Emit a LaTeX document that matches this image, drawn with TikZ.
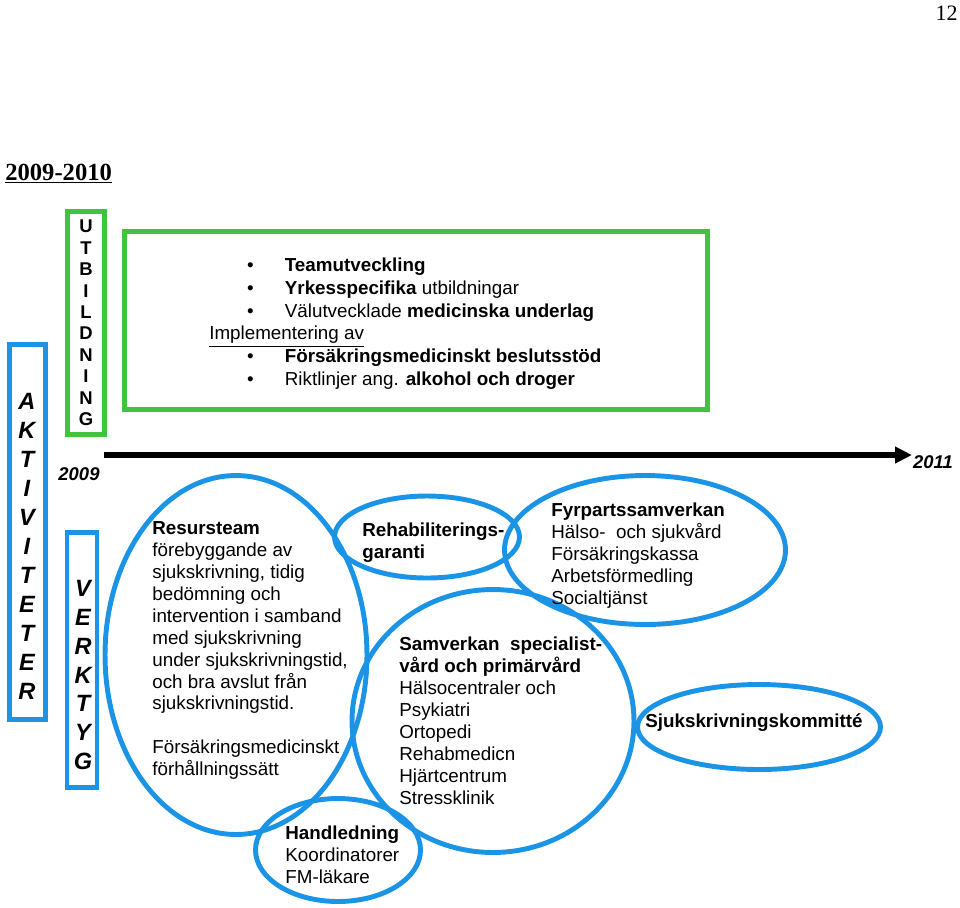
\documentclass[tikz,border=0pt]{standalone}
\usepackage{fontspec}
\setmainfont{Liberation Sans}
\newfontfamily\timesfont{Liberation Serif}
\usetikzlibrary{shapes.geometric,arrows.meta}
\definecolor{lineblue}{RGB}{28,148,230}
\definecolor{linegreen}{RGB}{64,196,64}
\newcommand{\bul}[1]{\makebox[43pt][l]{\hspace{21.5pt}\textbullet}#1}

\begin{document}
\begin{tikzpicture}[x=0.02cm,y=-0.02cm,
  ell/.style={draw=lineblue,line width=2.8pt,ellipse,inner sep=0pt},
  bbox/.style={draw=lineblue,line width=2.6pt,inner sep=0pt},
  gbox/.style={draw=linegreen,line width=2.8pt,inner sep=0pt},
  txt/.style={anchor=north west,align=left,inner sep=0pt,font=\fontsize{10.7}{12.5}\selectfont},
  vert/.style={align=center,inner sep=0pt,font=\fontsize{13.4}{16.5}\selectfont\bfseries\itshape}]
  \useasboundingbox (0,0) rectangle (960,907);

  \node[anchor=base east,inner sep=0pt,font=\timesfont\fontsize{12.5}{14}\selectfont] (page) at (958,20) {12};
  \node[anchor=base west,inner sep=0pt,font=\timesfont\fontsize{14}{16}\selectfont\bfseries] (year) at (5,180) {\underline{2009-2010}};

  \node[bbox,minimum width=0.72cm,minimum height=7.5cm] (akt box) at (27.5,532) {};
  \node[vert] (akt) at (27,546) {A\\K\\T\\I\\V\\I\\T\\E\\T\\E\\R};
  \node[gbox,minimum width=0.74cm,minimum height=4.46cm,align=center,font=\fontsize{10.5}{12.2}\selectfont\bfseries] (utb) at (86,323) {U\\T\\B\\I\\L\\D\\N\\I\\N\\G};
  \node[bbox,minimum width=0.6cm,minimum height=5.1cm] (verk box) at (82,660) {};
  \node[vert] (verk) at (83,675) {V\\E\\R\\K\\T\\Y\\G};

  \node[gbox,minimum width=11.66cm,minimum height=3.56cm] (green) at (416,320.5) {};
  \node[txt,font=\fontsize{10.7}{12.9}\selectfont] (list) at (209,258) {%
    \bul{\textbf{Teamutveckling}}\\
    \bul{\textbf{Yrkesspecifika} utbildningar}\\
    \bul{Välutvecklade \textbf{medicinska underlag}}\\
    \underline{Implementering av}\\
    \bul{\textbf{Försäkringsmedicinskt beslutsstöd}}\\
    \bul{Riktlinjer ang. \textbf{alkohol och droger}}};

  \coordinate (t0) at (104,455);
  \coordinate (t1) at (912,455);
  \draw[line width=3.4pt,-{Triangle[length=9.6pt,width=9pt]}] (t0) -- (t1);
  \node[inner sep=0pt,font=\fontsize{10.5}{12}\selectfont\bfseries\itshape] (y09) at (79,474) {2009};
  \node[inner sep=0pt,font=\fontsize{10.5}{12}\selectfont\bfseries\itshape] (y11) at (933,462) {2011};

  \node[ell,minimum width=5.24cm,minimum height=7.18cm] (res) at (236,655) {};
  \node[ell,minimum width=3.70cm,minimum height=1.64cm] (rehab) at (427,537) {};
  \node[ell,minimum width=5.62cm,minimum height=2.98cm] (fyr) at (645,550) {};
  \node[ell,minimum width=5.64cm,minimum height=5.26cm] (sam) at (493,721) {};
  \node[ell,minimum width=4.86cm,minimum height=1.70cm] (sjuk) at (759,727) {};
  \node[ell,minimum width=3.30cm,minimum height=2.06cm] (handl) at (338,850) {};

  \node[txt] (res text) at (152,521) {\textbf{Resursteam}\\förebyggande av\\sjukskrivning, tidig\\bedömning och\\intervention i samband\\med sjukskrivning\\under sjukskrivningstid,\\och bra avslut från\\sjukskrivningstid.\\[12.5pt]Försäkringsmedicinskt\\förhållningssätt};
  \node[txt,font=\fontsize{10.7}{12.5}\selectfont\bfseries] (rehab text) at (362,523) {Rehabiliterings-\\garanti};
  \node[txt] (fyr text) at (551,503) {\textbf{Fyrpartssamverkan}\\Hälso-\ \ och sjukvård\\Försäkringskassa\\Arbetsförmedling\\Socialtjänst};
  \node[txt] (sam text) at (399,637) {\textbf{Samverkan\ \ specialist-}\\\textbf{vård och primärvård}\\Hälsocentraler och\\Psykiatri\\Ortopedi\\Rehabmedicn\\Hjärtcentrum\\Stressklinik};
  \node[txt,font=\fontsize{10.7}{12.5}\selectfont\bfseries] (sjuk text) at (645,713) {Sjukskrivningskommitté};
  \node[txt] (handl text) at (285,826) {\textbf{Handledning}\\Koordinatorer\\FM-läkare};
\end{tikzpicture}
\end{document}
